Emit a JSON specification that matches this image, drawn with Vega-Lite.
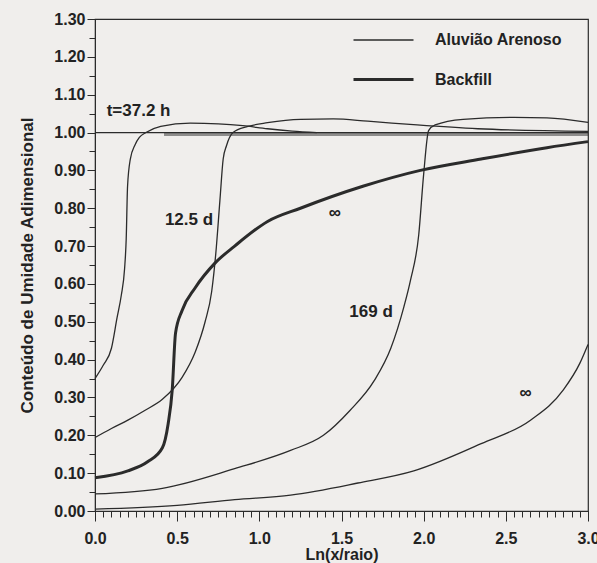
{
  "$schema": "https://vega.github.io/schema/vega-lite/v6.json",
  "width": 493,
  "height": 492,
  "autosize": "none",
  "padding": {"left": 95, "top": 19, "right": 9, "bottom": 52},
  "background": "#f0eeec",
  "config": {
    "view": {"stroke": "#2b2b2b", "strokeWidth": 1.2, "fill": "#f0eeec"},
    "font": "Liberation Sans",
    "axis": {
      "domainColor": "#2b2b2b",
      "tickColor": "#2b2b2b",
      "labelColor": "#222",
      "titleColor": "#222",
      "labelFont": "Liberation Sans",
      "titleFont": "Liberation Sans",
      "labelFontSize": 16,
      "labelFontWeight": "bold",
      "titleFontSize": 17,
      "titleFontWeight": "bold",
      "grid": false
    }
  },
  "layer": [
    {
      "data": {
        "values": [
          {"series": "37.2h", "material": "Aluvião Arenoso", "x": 0, "y": 0.35},
          {"series": "37.2h", "material": "Aluvião Arenoso", "x": 0.05, "y": 0.385},
          {"series": "37.2h", "material": "Aluvião Arenoso", "x": 0.1, "y": 0.43},
          {"series": "37.2h", "material": "Aluvião Arenoso", "x": 0.134, "y": 0.51},
          {"series": "37.2h", "material": "Aluvião Arenoso", "x": 0.16, "y": 0.57},
          {"series": "37.2h", "material": "Aluvião Arenoso", "x": 0.18, "y": 0.64},
          {"series": "37.2h", "material": "Aluvião Arenoso", "x": 0.19, "y": 0.72},
          {"series": "37.2h", "material": "Aluvião Arenoso", "x": 0.198, "y": 0.857},
          {"series": "37.2h", "material": "Aluvião Arenoso", "x": 0.215, "y": 0.93},
          {"series": "37.2h", "material": "Aluvião Arenoso", "x": 0.244, "y": 0.968},
          {"series": "37.2h", "material": "Aluvião Arenoso", "x": 0.27, "y": 0.987},
          {"series": "37.2h", "material": "Aluvião Arenoso", "x": 0.31, "y": 1.0},
          {"series": "37.2h", "material": "Aluvião Arenoso", "x": 0.4, "y": 1.016},
          {"series": "37.2h", "material": "Aluvião Arenoso", "x": 0.58, "y": 1.025},
          {"series": "37.2h", "material": "Aluvião Arenoso", "x": 0.75, "y": 1.023},
          {"series": "37.2h", "material": "Aluvião Arenoso", "x": 0.9, "y": 1.018},
          {"series": "37.2h", "material": "Aluvião Arenoso", "x": 1.05, "y": 1.01},
          {"series": "37.2h", "material": "Aluvião Arenoso", "x": 1.2, "y": 1.004},
          {"series": "37.2h", "material": "Aluvião Arenoso", "x": 1.35, "y": 1.0},

          {"series": "12.5d", "material": "Aluvião Arenoso", "x": 0, "y": 0.194},
          {"series": "12.5d", "material": "Aluvião Arenoso", "x": 0.1, "y": 0.218},
          {"series": "12.5d", "material": "Aluvião Arenoso", "x": 0.2, "y": 0.24},
          {"series": "12.5d", "material": "Aluvião Arenoso", "x": 0.3, "y": 0.265},
          {"series": "12.5d", "material": "Aluvião Arenoso", "x": 0.41, "y": 0.295},
          {"series": "12.5d", "material": "Aluvião Arenoso", "x": 0.53, "y": 0.353},
          {"series": "12.5d", "material": "Aluvião Arenoso", "x": 0.61, "y": 0.42},
          {"series": "12.5d", "material": "Aluvião Arenoso", "x": 0.67, "y": 0.5},
          {"series": "12.5d", "material": "Aluvião Arenoso", "x": 0.71, "y": 0.58},
          {"series": "12.5d", "material": "Aluvião Arenoso", "x": 0.735, "y": 0.68},
          {"series": "12.5d", "material": "Aluvião Arenoso", "x": 0.76, "y": 0.82},
          {"series": "12.5d", "material": "Aluvião Arenoso", "x": 0.78, "y": 0.93},
          {"series": "12.5d", "material": "Aluvião Arenoso", "x": 0.8, "y": 0.965},
          {"series": "12.5d", "material": "Aluvião Arenoso", "x": 0.84, "y": 1.0},
          {"series": "12.5d", "material": "Aluvião Arenoso", "x": 0.93, "y": 1.016},
          {"series": "12.5d", "material": "Aluvião Arenoso", "x": 1.05, "y": 1.026},
          {"series": "12.5d", "material": "Aluvião Arenoso", "x": 1.25, "y": 1.035},
          {"series": "12.5d", "material": "Aluvião Arenoso", "x": 1.45, "y": 1.036},
          {"series": "12.5d", "material": "Aluvião Arenoso", "x": 1.66, "y": 1.03},
          {"series": "12.5d", "material": "Aluvião Arenoso", "x": 1.96, "y": 1.02},
          {"series": "12.5d", "material": "Aluvião Arenoso", "x": 2.33, "y": 1.01},
          {"series": "12.5d", "material": "Aluvião Arenoso", "x": 3.0, "y": 1.003},

          {"series": "169d", "material": "Aluvião Arenoso", "x": 0, "y": 0.045},
          {"series": "169d", "material": "Aluvião Arenoso", "x": 0.41, "y": 0.06},
          {"series": "169d", "material": "Aluvião Arenoso", "x": 0.85, "y": 0.112},
          {"series": "169d", "material": "Aluvião Arenoso", "x": 1.19, "y": 0.16},
          {"series": "169d", "material": "Aluvião Arenoso", "x": 1.39, "y": 0.2},
          {"series": "169d", "material": "Aluvião Arenoso", "x": 1.55, "y": 0.265},
          {"series": "169d", "material": "Aluvião Arenoso", "x": 1.7, "y": 0.345},
          {"series": "169d", "material": "Aluvião Arenoso", "x": 1.8, "y": 0.43},
          {"series": "169d", "material": "Aluvião Arenoso", "x": 1.88, "y": 0.54},
          {"series": "169d", "material": "Aluvião Arenoso", "x": 1.92, "y": 0.61},
          {"series": "169d", "material": "Aluvião Arenoso", "x": 1.97, "y": 0.73},
          {"series": "169d", "material": "Aluvião Arenoso", "x": 2.0, "y": 0.89},
          {"series": "169d", "material": "Aluvião Arenoso", "x": 2.03, "y": 1.005},
          {"series": "169d", "material": "Aluvião Arenoso", "x": 2.07, "y": 1.02},
          {"series": "169d", "material": "Aluvião Arenoso", "x": 2.24, "y": 1.035},
          {"series": "169d", "material": "Aluvião Arenoso", "x": 2.55, "y": 1.04},
          {"series": "169d", "material": "Aluvião Arenoso", "x": 2.75, "y": 1.039},
          {"series": "169d", "material": "Aluvião Arenoso", "x": 3.0, "y": 1.027},

          {"series": "inf_a", "material": "Aluvião Arenoso", "x": 0, "y": 0.005},
          {"series": "inf_a", "material": "Aluvião Arenoso", "x": 0.5, "y": 0.015},
          {"series": "inf_a", "material": "Aluvião Arenoso", "x": 0.85, "y": 0.03},
          {"series": "inf_a", "material": "Aluvião Arenoso", "x": 1.19, "y": 0.042},
          {"series": "inf_a", "material": "Aluvião Arenoso", "x": 1.6, "y": 0.074},
          {"series": "inf_a", "material": "Aluvião Arenoso", "x": 1.94, "y": 0.106},
          {"series": "inf_a", "material": "Aluvião Arenoso", "x": 2.35, "y": 0.178},
          {"series": "inf_a", "material": "Aluvião Arenoso", "x": 2.65, "y": 0.24},
          {"series": "inf_a", "material": "Aluvião Arenoso", "x": 2.85, "y": 0.32},
          {"series": "inf_a", "material": "Aluvião Arenoso", "x": 2.95, "y": 0.39},
          {"series": "inf_a", "material": "Aluvião Arenoso", "x": 3.0, "y": 0.44},

          {"series": "ref", "material": "Aluvião Arenoso", "x": 0, "y": 1.0},
          {"series": "ref", "material": "Aluvião Arenoso", "x": 3.0, "y": 1.0},

          {"series": "bf_t", "material": "Backfill", "x": 0.42, "y": 0.995},
          {"series": "bf_t", "material": "Backfill", "x": 3.0, "y": 0.995},

          {"series": "inf_b", "material": "Backfill", "x": 0, "y": 0.088},
          {"series": "inf_b", "material": "Backfill", "x": 0.2, "y": 0.106},
          {"series": "inf_b", "material": "Backfill", "x": 0.32, "y": 0.13},
          {"series": "inf_b", "material": "Backfill", "x": 0.41, "y": 0.167},
          {"series": "inf_b", "material": "Backfill", "x": 0.445, "y": 0.23},
          {"series": "inf_b", "material": "Backfill", "x": 0.47, "y": 0.32},
          {"series": "inf_b", "material": "Backfill", "x": 0.49, "y": 0.47},
          {"series": "inf_b", "material": "Backfill", "x": 0.53, "y": 0.53},
          {"series": "inf_b", "material": "Backfill", "x": 0.61, "y": 0.59},
          {"series": "inf_b", "material": "Backfill", "x": 0.73, "y": 0.655},
          {"series": "inf_b", "material": "Backfill", "x": 0.85, "y": 0.7},
          {"series": "inf_b", "material": "Backfill", "x": 1.05, "y": 0.765},
          {"series": "inf_b", "material": "Backfill", "x": 1.25, "y": 0.8},
          {"series": "inf_b", "material": "Backfill", "x": 1.63, "y": 0.858},
          {"series": "inf_b", "material": "Backfill", "x": 1.98, "y": 0.9},
          {"series": "inf_b", "material": "Backfill", "x": 2.35, "y": 0.93},
          {"series": "inf_b", "material": "Backfill", "x": 2.75, "y": 0.96},
          {"series": "inf_b", "material": "Backfill", "x": 3.0, "y": 0.976}
        ]
      },
      "mark": {"type": "line", "interpolate": "monotone", "color": "#2b2b2b"},
      "encoding": {
        "x": {
          "field": "x", "type": "quantitative",
          "scale": {"domain": [0, 3], "nice": false, "zero": false},
          "axis": {
            "values": [0, 0.05, 0.1, 0.15, 0.2, 0.25, 0.3, 0.35, 0.4, 0.45, 0.5, 0.55, 0.6, 0.65, 0.7, 0.75, 0.8, 0.85, 0.9, 0.95, 1, 1.05, 1.1, 1.15, 1.2, 1.25, 1.3, 1.35, 1.4, 1.45, 1.5, 1.55, 1.6, 1.65, 1.7, 1.75, 1.8, 1.85, 1.9, 1.95, 2, 2.05, 2.1, 2.15, 2.2, 2.25, 2.3, 2.35, 2.4, 2.45, 2.5, 2.55, 2.6, 2.65, 2.7, 2.75, 2.8, 2.85, 2.9, 2.95, 3],
            "tickCount": 100,
            "labelExpr": "abs(datum.value*2 - round(datum.value*2)) < 0.001 ? format(datum.value, '.1f') : ''",
            "labelOverlap": false,
            "labelBound": false,
            "labelFlush": false,
            "tickSize": {"condition": {"test": "abs(datum.value*2 - round(datum.value*2)) < 0.001", "value": 10}, "value": 6},
            "labelPadding": 9,
            "title": "Ln(x/raio)",
            "titleFontSize": 16,
            "titlePadding": 0
          }
        },
        "y": {
          "field": "y", "type": "quantitative",
          "scale": {"domain": [0, 1.3], "nice": false, "zero": false},
          "axis": {
            "values": [0, 0.05, 0.1, 0.15, 0.2, 0.25, 0.3, 0.35, 0.4, 0.45, 0.5, 0.55, 0.6, 0.65, 0.7, 0.75, 0.8, 0.85, 0.9, 0.95, 1, 1.05, 1.1, 1.15, 1.2, 1.25, 1.3],
            "tickCount": 100,
            "labelExpr": "abs(datum.value*10 - round(datum.value*10)) < 0.001 ? format(datum.value, '.2f') : ''",
            "labelOverlap": false,
            "labelBound": false,
            "labelFlush": false,
            "tickSize": {"condition": {"test": "abs(datum.value*10 - round(datum.value*10)) < 0.001", "value": 8}, "value": 6},
            "labelPadding": 2,
            "title": "Conteúdo de Umidade Adimensional",
            "titlePadding": 17
          }
        },
        "detail": {"field": "series"},
        "opacity": {"condition": {"test": "datum.series === 'bf_t'", "value": 0.5}, "value": 1},
        "strokeWidth": {
          "field": "material", "type": "ordinal",
          "scale": {"domain": ["Aluvião Arenoso", "Backfill"], "range": [1.3, 3]},
          "legend": {
            "orient": "none",
            "legendX": 257,
            "legendY": -10,
            "title": null,
            "symbolType": "stroke",
            "symbolSize": 3600,
            "symbolStrokeColor": "#2b2b2b",
            "symbolOpacity": 1,
            "labelFont": "Liberation Sans",
            "labelFontSize": 16,
            "labelFontWeight": "bold",
            "labelColor": "#222",
            "labelOffset": 20,
            "rowPadding": -22,
            "padding": 0
          }
        }
      }
    },
    {
      "data": {
        "values": [
          {"label": "t=37.2 h", "x": 0.265, "y": 1.056},
          {"label": "12.5 d", "x": 0.572, "y": 0.77},
          {"label": "∞", "x": 1.46, "y": 0.788},
          {"label": "169 d", "x": 1.68, "y": 0.526},
          {"label": "∞", "x": 2.62, "y": 0.312}
        ]
      },
      "mark": {"type": "text", "font": "Liberation Sans", "fontSize": 17, "fontWeight": "bold", "color": "#222", "baseline": "middle", "align": "center"},
      "encoding": {
        "x": {"field": "x", "type": "quantitative"},
        "y": {"field": "y", "type": "quantitative"},
        "text": {"field": "label"}
      }
    }
  ]
}
